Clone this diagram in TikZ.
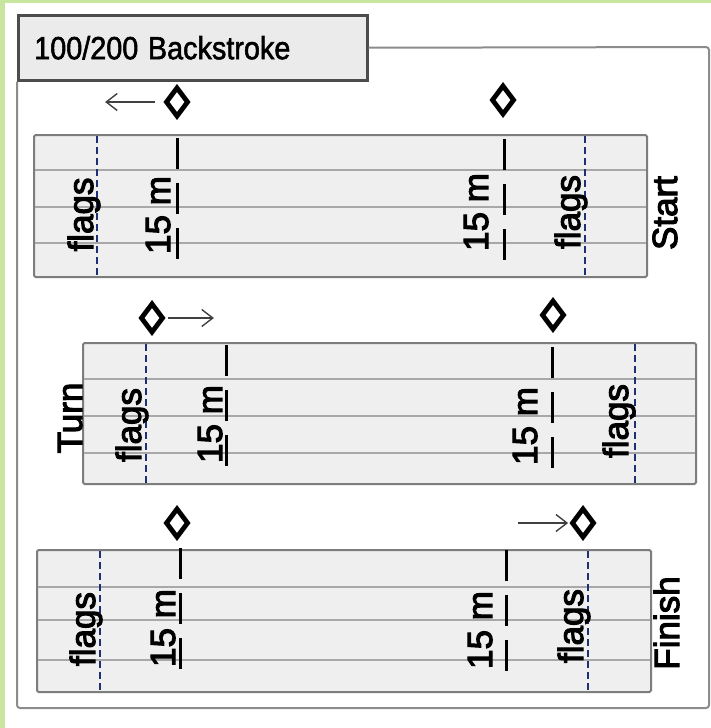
\documentclass[tikz,border=0pt]{standalone}
\usepackage{fontspec}
\setmainfont{Liberation Sans}
\newfontfamily\heavysans{Liberation Sans}[FakeBold=3]
\newfontfamily\titlesans{Liberation Sans}[FakeBold=1.8]
\usetikzlibrary{positioning}
\usetikzlibrary{arrows.meta}
\usetikzlibrary{shapes.geometric}
\definecolor{leafgreen}{RGB}{200,230,160}
\definecolor{poolgray}{RGB}{239,239,239}
\definecolor{lanegray}{RGB}{168,168,168}
\definecolor{edgegray}{RGB}{125,125,125}
\definecolor{flagblue}{RGB}{30,48,115}
\tikzset{poolbox/.style={draw=edgegray, fill=poolgray, line width=2pt, rounded corners=1.5pt},
lane/.style={draw=lanegray, line width=2pt},
flagline/.style={draw=flagblue, line width=2.6pt, dash pattern=on 7pt off 4pt},
mark15/.style={draw=black, line width=3pt, dash pattern=on 31pt off 14pt},
lbl/.style={font=\heavysans\fontsize{35}{40}\selectfont, rotate=90, anchor=base, inner sep=0pt},
judge/.style={shape=diamond, draw, line width=4.8pt, minimum width=23pt, minimum height=30pt, inner sep=0pt, fill=white}}

\begin{document}
\begin{tikzpicture}[x=1pt, y=-1pt,
	arr/.style={draw=black!75, line width=1.4pt, -{Straight Barb[length=11pt,width=17pt]}}]
	\useasboundingbox (0,0) rectangle (711,728);
	\fill[white] (0,0) rectangle (711,728);
	\fill[leafgreen] (0,0) rectangle (5,728);
	\fill[leafgreen] (0,0) rectangle (711,3);
	\node[draw=black!70, fill=black!8, line width=2.5pt, anchor=north west, minimum height=65pt,
		text width=317pt, inner xsep=16pt, align=left, font=\titlesans\fontsize{32}{36}\selectfont] (title) at (17,14)
		{\scalebox{0.9}[1]{100/200 Backstroke}};
	\draw[draw=black!45, line width=2pt, rounded corners=3pt] (title.east) -- (709,47) -- (709,708) -- (17,708) -- (title.south west);
	% start
	\draw[poolbox] (34,135) rectangle (647,277);
	\foreach \y in {170,207,243}
		\draw[lane] (35,\y) -- (646,\y);
	\draw[flagline] (97,136) -- (97,276);
	\draw[flagline] (585,136) -- (585,276);
	\draw[mark15] (177,138) -- (177,259);
	\draw[mark15] (504,139) -- (504,260);
	\node[lbl] (flagsA) at (93,214.5) {flags};
	\node[lbl] (mA) at (170,215) {15 m};
	\node[lbl] (mB) at (488,212) {15 m};
	\node[lbl] (flagsB) at (580,212) {flags};
	\node[lbl] (start) at (677,213) {Start};
	\node[judge] (dA) at (177,102) {};
	\node[judge] (dB) at (503,100) {};
	\coordinate[left=58pt of dA] (aA);
	\draw[arr, shorten <=8pt] (dA) -- (aA);
	% turn
	\draw[poolbox] (83,343) rectangle (696,484);
	\foreach \y in {379,416,453}
		\draw[lane] (84,\y) -- (695,\y);
	\draw[flagline] (146,344) -- (146,483);
	\draw[flagline] (635,344) -- (635,483);
	\draw[mark15] (226,345) -- (226,466);
	\draw[mark15] (552,347) -- (552,468);
	\node[lbl] (turn) at (82,418) {Turn};
	\node[lbl] (flagsC) at (141,425) {flags};
	\node[lbl] (mC) at (222,424) {15 m};
	\node[lbl] (mD) at (537,426) {15 m};
	\node[lbl] (flagsD) at (628,421) {flags};
	\node[judge] (dC) at (152,318) {};
	\node[judge] (dD) at (553,315) {};
	\coordinate[right=48pt of dC] (aC);
	\draw[arr, shorten <=2pt] (dC) -- (aC);
	% finish
	\draw[poolbox] (37,550) rectangle (651,692);
	\foreach \y in {587,620,660}
		\draw[lane] (38,\y) -- (650,\y);
	\draw[flagline] (100,551) -- (100,691);
	\draw[flagline] (588,551) -- (588,691);
	\draw[mark15] (180,548) -- (180,669);
	\draw[mark15] (506,550) -- (506,671);
	\node[lbl] (flagsE) at (95,629) {flags};
	\node[lbl] (mE) at (175,628) {15 m};
	\node[lbl] (mF) at (492,630) {15 m};
	\node[lbl] (flagsF) at (583,626) {flags};
	\node[lbl] (finish) at (679,623) {Finish};
	\node[judge] (dE) at (177,523) {};
	\node[judge] (dF) at (583,523) {};
	\coordinate[left=51pt of dF] (aF);
	\draw[arr, shorten >=1pt] (aF) -- (dF);
\end{tikzpicture}
\end{document}
